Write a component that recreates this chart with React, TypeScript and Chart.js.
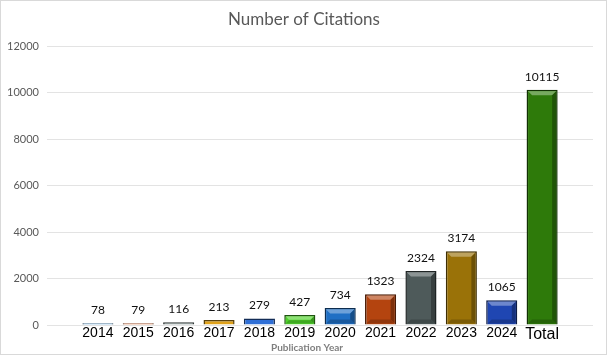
import React, { useEffect, useRef } from "react";
import { Chart, registerables } from "chart.js";

Chart.register(...registerables);

const categories = ["2014", "2015", "2016", "2017", "2018", "2019", "2020", "2021", "2022", "2023", "2024", "Total"];
const citations = [78, 79, 116, 213, 279, 427, 734, 1323, 2324, 3174, 1065, 10115];
const barColors = ["#6aaee6", "#e8733a", "#7d8b8a", "#e0a21a", "#2f6fd6", "#4fd22b", "#1f6fc4", "#b4440f", "#4e5a5a", "#9a7208", "#1f46b2", "#2e7a0a"];
const yTicks = [0, 2000, 4000, 6000, 8000, 10000, 12000];

function shade(hex: string, f: number) {
  const n = parseInt(hex.slice(1), 16);
  let r = (n >> 16) & 255, g = (n >> 8) & 255, b = n & 255;
  if (f >= 0) { r += (255 - r) * f; g += (255 - g) * f; b += (255 - b) * f; }
  else { r *= 1 + f; g *= 1 + f; b *= 1 + f; }
  return `rgb(${Math.round(r)},${Math.round(g)},${Math.round(b)})`;
}

const decoPlugin = {
  id: "deco",
  afterDatasetsDraw(chart: any) {
    const ctx = chart.ctx;
    const meta = chart.getDatasetMeta(0);
    meta.data.forEach((bar: any, i: number) => {
      const { x, y, base, width } = bar.getProps(["x", "y", "base", "width"], true);
      const l = x - width / 2, r = x + width / 2;
      const h = base - y;
      const c = barColors[i];
      ctx.save();
      if (h > 6) {
        const bev = Math.min(4, h / 3);
        ctx.fillStyle = shade(c, 0.35);
        ctx.beginPath();
        ctx.moveTo(l + 1.5, y + 1.5);
        ctx.lineTo(r - 1.5, y + 1.5);
        ctx.lineTo(r - 1.5 - bev, y + 1.5 + bev);
        ctx.lineTo(l + 1.5 + bev, y + 1.5 + bev);
        ctx.closePath();
        ctx.fill();
        ctx.fillStyle = shade(c, -0.3);
        ctx.beginPath();
        ctx.moveTo(r - 1.5, y + 1.5);
        ctx.lineTo(r - 1.5, base - 1);
        ctx.lineTo(r - 1.5 - bev, base - 1 - bev);
        ctx.lineTo(r - 1.5 - bev, y + 1.5 + bev);
        ctx.closePath();
        ctx.fill();
        ctx.fillStyle = shade(c, -0.2);
        ctx.beginPath();
        ctx.moveTo(l + 1.5, base - 1);
        ctx.lineTo(r - 1.5, base - 1);
        ctx.lineTo(r - 1.5 - bev, base - 1 - bev);
        ctx.lineTo(l + 1.5 + bev, base - 1 - bev);
        ctx.closePath();
        ctx.fill();
      }
      ctx.fillStyle = "#111";
      ctx.font = "12px Lato, 'Open Sans', sans-serif";
      ctx.textAlign = "center";
      ctx.textBaseline = "middle";
      ctx.fillText(String(citations[i]), x, y - 13);
      ctx.restore();
    });
    // title
    ctx.save();
    ctx.fillStyle = "#595959";
    ctx.font = "17px Lato, 'Open Sans', sans-serif";
    ctx.textAlign = "center";
    ctx.textBaseline = "middle";
    ctx.fillText("Number of Citations", 303, 19);
    ctx.fillStyle = "#7f7f7f";
    ctx.font = "bold 10px Lato, 'Open Sans', sans-serif";
    ctx.fillText("Publication Year", 306, 347);
    ctx.restore();
  },
};

export default function App() {
  const ref = useRef<HTMLCanvasElement>(null);
  useEffect(() => {
    const chart = new Chart(ref.current as HTMLCanvasElement, {
      type: "bar",
      data: {
        datasets: [
          {
            data: citations.map((v, i) => ({ x: i, y: v })),
            backgroundColor: barColors,
            borderColor: barColors.map((c) => shade(c, -0.6)),
            borderWidth: 1.5,
            barPercentage: 0.77,
            categoryPercentage: 1,
          },
        ],
      },
      options: {
        animation: false,
        responsive: false,
        maintainAspectRatio: false,
        layout: { padding: { top: 45, right: 13, bottom: 0, left: 0 } },
        plugins: { legend: { display: false }, title: { display: false }, tooltip: { enabled: false } },
        scales: {
          x: {
            type: "linear",
            offset: false,
            min: -1.26,
            max: 12.26,
            grid: { display: false, drawTicks: false },
            border: { display: false },
            afterBuildTicks: (scale: any) => {
              scale.ticks = categories.map((_, i) => ({ value: i }));
            },
            afterFit: (scale: any) => {
              scale.height = 29;
            },
            ticks: {
              autoSkip: false,
              maxRotation: 0,
              padding: 0,
              color: "#000",
              callback: (v: any) => categories[v as number] ?? "",
              font: (ctx: any) => ({
                family: "'Liberation Sans', Arial, sans-serif",
                size: ctx.index === categories.length - 1 ? 16 : 14,
              }),
            },
          },
          y: {
            min: 0,
            max: 12000,
            grid: { color: "#e3e3e3", lineWidth: 1, drawTicks: false },
            border: { display: false },
            afterBuildTicks: (scale: any) => {
              scale.ticks = yTicks.map((v) => ({ value: v }));
            },
            afterFit: (scale: any) => {
              scale.width = 46;
            },
            ticks: {
              color: "#595959",
              padding: 8,
              callback: (v: any) => String(v),
              font: { family: "Lato, 'Open Sans', sans-serif", size: 11 },
            },
          },
        },
      },
      plugins: [decoPlugin],
    } as any);
    return () => chart.destroy();
  }, []);
  return (
    <div style={{ position: "fixed", left: 0, top: 0, width: 607, height: 355, background: "#fff", boxSizing: "border-box", border: "1px solid #d9d9d9" }}>
      <canvas ref={ref} width={605} height={353} style={{ display: "block" }} />
    </div>
  );
}
